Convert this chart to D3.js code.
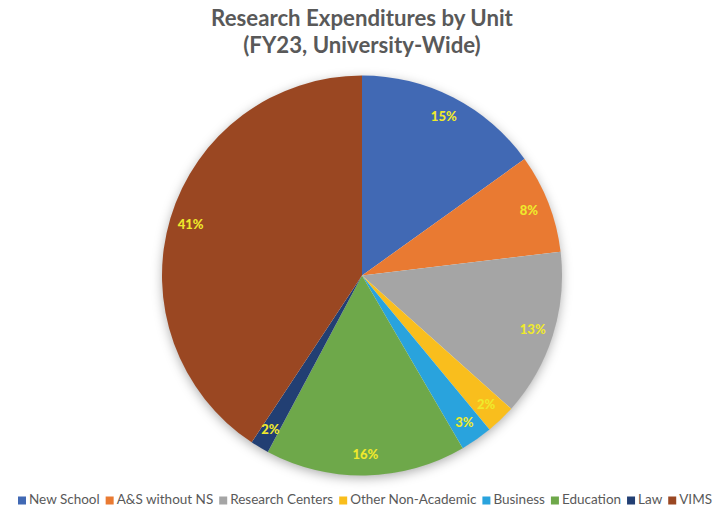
<!DOCTYPE html>
<html>
<head>
<meta charset="utf-8">
<script src="https://cdn.jsdelivr.net/npm/d3@7"></script>
<style>
  html, body { margin: 0; padding: 0; background: #ffffff; }
  svg { display: block; }
</style>
</head>
<body>
<svg id="chart" width="713" height="507"></svg>
<script>
const categories = ["New School", "A&S without NS", "Research Centers", "Other Non-Academic", "Business", "Education", "Law", "VIMS"];
const values = [15.1, 8.0, 13.5, 2.4, 2.6, 16.2, 1.5, 40.7];
const labels = ["15%", "8%", "13%", "2%", "3%", "16%", "2%", "41%"];
const colors = ["#4169B4", "#E97A32", "#A5A5A5", "#F9BE1D", "#29A3DD", "#6EA84A", "#223F73", "#9A4722"];
const titleLines = ["Research Expenditures by Unit", "(FY23, University-Wide)"];

const svg = d3.select("#chart");
const cx = 362, cy = 275.5, R = 200;
const font = "Lato, 'Open Sans', sans-serif";

const defs = svg.append("defs");
const f = defs.append("filter").attr("id", "shadow")
  .attr("x", "-20%").attr("y", "-20%").attr("width", "140%").attr("height", "140%");
f.append("feDropShadow").attr("dx", 0).attr("dy", 3).attr("stdDeviation", 6)
  .attr("flood-color", "#000").attr("flood-opacity", 0.35);

// Title
const title = svg.append("g");
titleLines.forEach((t, i) => {
  title.append("text")
    .attr("x", cx).attr("y", 26 + i * 27)
    .attr("text-anchor", "middle")
    .attr("font-family", font).attr("font-weight", "bold")
    .attr("font-size", 21).attr("fill", "#595959")
    .text(t);
});
const t0 = title.select("text").node();
const w0 = t0.getComputedTextLength();
title.selectAll("text").attr("font-size", 21 * 302 / w0);

// Pie
const pie = d3.pie().sort(null).value(d => d)(values);
const arc = d3.arc().innerRadius(0).outerRadius(R);
const labelArc = d3.arc().innerRadius(R * 0.895).outerRadius(R * 0.895);

const g = svg.append("g").attr("transform", `translate(${cx},${cy})`);
g.append("circle").attr("r", R - 1).attr("fill", "#ffffff").attr("filter", "url(#shadow)");
g.selectAll("path.slice").data(pie).enter().append("path")
  .attr("class", "slice")
  .attr("d", arc)
  .attr("fill", (d, i) => colors[i]);

g.selectAll("text.lbl").data(pie).enter().append("text")
  .attr("class", "lbl")
  .attr("transform", d => {
    const c = labelArc.centroid(d);
    return `translate(${c[0]},${c[1]})`;
  })
  .attr("text-anchor", "middle")
  .attr("dy", "0.36em")
  .attr("font-family", font).attr("font-weight", 900)
  .attr("font-size", 13).attr("fill", "#EFE92C")
  .text((d, i) => labels[i]);

// Legend
const leg = svg.append("g");
const sq = 8, gapText = 3;
const items = leg.selectAll("g.item").data(categories).enter().append("g").attr("class", "item");
items.append("rect").attr("width", sq).attr("height", sq).attr("y", -sq + 0.5)
  .attr("fill", (d, i) => colors[i]);
items.append("text").attr("x", sq + gapText).attr("y", 0)
  .attr("font-family", font).attr("font-size", 13.5).attr("fill", "#595959")
  .text(d => d);
let widths = [];
items.select("text").each(function() { widths.push(this.getComputedTextLength()); });
const target = 694;
const total = d3.sum(widths) + categories.length * (sq + gapText);
const gi = (target - total) / (categories.length - 1);
let x = 365 - target / 2;
items.attr("transform", (d, i) => {
  const tx = x;
  x += sq + gapText + widths[i] + gi;
  return `translate(${tx},504)`;
});
</script>
</body>
</html>
